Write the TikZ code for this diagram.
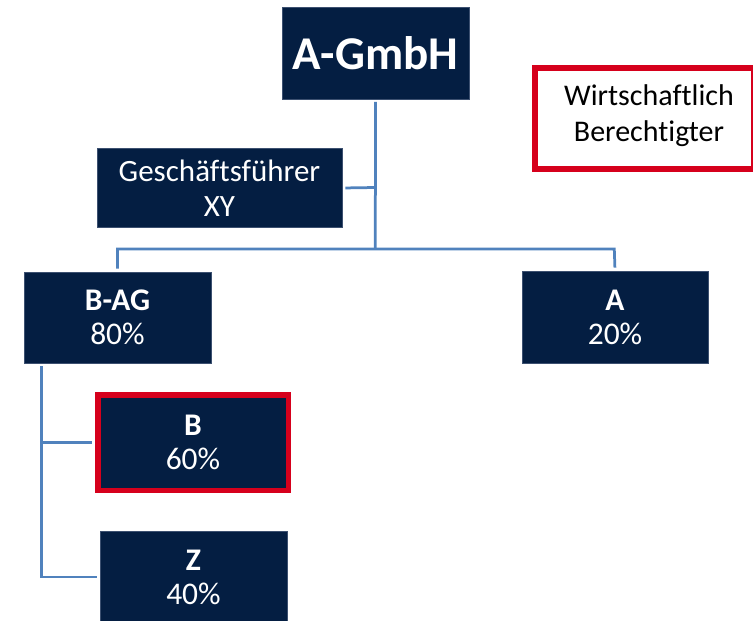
\documentclass[tikz,border=0pt]{standalone}
\usepackage{fontspec}
\setmainfont[Ligatures=NoCommon]{Carlito}
\definecolor{navy}{RGB}{4,30,66}
\definecolor{edgenavy}{RGB}{60,80,112}
\definecolor{brred}{RGB}{214,0,28}
\definecolor{connblue}{RGB}{80,130,189}
\begin{document}
\begin{tikzpicture}[x=1pt,y=-1pt,
  box/.style={fill=navy, draw=edgenavy, line width=0.75pt, text=white, align=center, inner sep=0pt},
  ent/.style={box, minimum width=187pt, minimum height=91pt, font=\fontsize{31.5}{34}\selectfont},
  redent/.style={fill=navy, draw=brred, line width=5.5pt, text=white, align=center, inner sep=0pt,
     minimum width=190.5pt, minimum height=95.5pt, font=\fontsize{31.5}{34}\selectfont},
  conn/.style={draw=connblue, line width=2.75pt, line join=miter}
]
\useasboundingbox (0,0) rectangle (753,621);
\clip (0,0) rectangle (753,621);

% nodes
\node[box, minimum width=187pt, minimum height=92pt, font=\fontsize{47}{52}\bfseries\selectfont] (gmbh) at (375.5,53) {A-GmbH};
\node[box, minimum width=245pt, minimum height=79pt, font=\fontsize{31}{35}\selectfont] (gf) at (219.5,188) {Geschäftsführer\\XY};
\node[ent] (bag) at (117.5,317.5) {\textbf{B-AG}\\80\%};
\node[ent, minimum width=186pt, minimum height=92pt] (a) at (615,317) {\textbf{A}\\20\%};
\node[redent] (b) at (193,442.5) {\textbf{B}\\60\%};
\node[ent, minimum height=92pt] (z) at (193.5,577) {\textbf{Z}\\40\%};
\node[draw=brred, line width=6pt, fill=white, minimum width=219pt, minimum height=101pt, inner sep=0pt] (wb) at (644.5,118.5) {};
\node[align=center, inner sep=0pt, font=\fontsize{30}{36}\selectfont] (wbtext) at (649,116) {Wirtschaftlich\\Berechtigter};

% junction coordinates
\coordinate (jtop) at (375.3,249);
\coordinate (jgf) at (375.3,187.5);
\coordinate (jl) at (117.4,249);
\coordinate (jr) at (614.3,249);
\coordinate (vx) at (41.7,0);
\coordinate (jb) at (41.7,442.5);

% connectors
\draw[conn, shorten <=2.5pt] (gmbh.south) -- (jtop);
\draw[conn, shorten <=3pt] (gf.east) -- (jgf);
\draw[conn, shorten <=3pt, shorten >=3pt] (bag.north) -- (jl) -- (jr) -- (a.north);
\draw[conn, shorten <=3pt, shorten >=3pt] (bag.south -| vx) |- (z.west);
\draw[conn, shorten >=2.75pt] (jb) -- (b.west);
\end{tikzpicture}
\end{document}
